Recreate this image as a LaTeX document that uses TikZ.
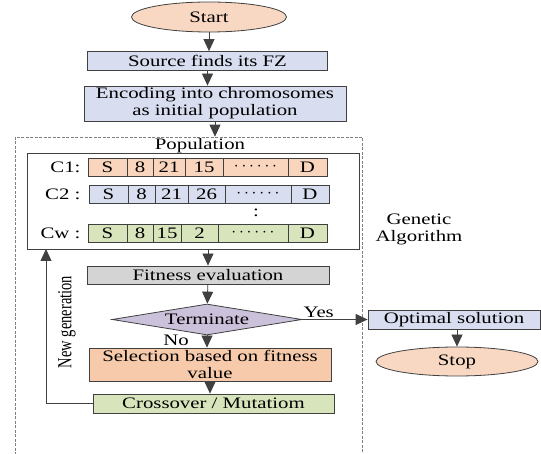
\documentclass[tikz,border=0pt]{standalone}
\usepackage{fontspec}
\setmainfont{Liberation Serif}[FakeStretch=1.3]
\newfontfamily\uprightserif{Liberation Serif}
\usepackage{tikz}
\usetikzlibrary{shapes.geometric,arrows.meta,positioning,calc}
\definecolor{peach}{HTML}{F6CAAB}
\definecolor{lightpeach}{HTML}{F9D8C3}
\definecolor{paleblue}{HTML}{D8DEF0}
\definecolor{palegreen}{HTML}{D8E4BC}
\definecolor{palegray}{HTML}{D4D4D4}
\definecolor{lilac}{HTML}{CCC1DA}
\definecolor{edgegray}{HTML}{404040}
\newcommand{\dotrun}{$\cdots\cdots$}

\begin{document}
\begin{tikzpicture}[
    x=1pt, y=-1pt,
    every node/.style={font=\fontsize{16}{17}\selectfont},
    box/.style={rectangle, draw=edgegray, line width=0.8pt, inner sep=1pt, align=center},
    term/.style={ellipse, draw=edgegray, line width=0.8pt, fill=lightpeach, inner sep=0pt},
    cell/.style={rectangle, draw=edgegray, line width=0.8pt, inner sep=0pt, minimum height=18pt},
    arrow/.style={-{Triangle[length=12pt,width=11pt]}, draw=edgegray, line width=0.8pt},
    tagtext/.style={inner sep=0pt}
]
    \clip (0,0) rectangle (541,454);

    \node[term, minimum width=155pt, minimum height=30pt] (start) at (209,17) {Start};
    \node[box, fill=paleblue, minimum width=240pt, minimum height=19pt] (source) at (207.5,61) {Source finds its FZ};
    \node[box, fill=paleblue, minimum width=262pt, minimum height=35pt] (encode) at (215,103.5) {Encoding into chromosomes\\as initial population};

    \node[rectangle, draw=gray, line width=0.7pt, dash pattern=on 3pt off 1.5pt, minimum width=346.5pt, minimum height=333pt] (ga) at (188.75,303.5) {};
    \node (poptitle) at (200,146) {Population};
    \node[rectangle, draw=edgegray, line width=0.8pt, minimum width=332pt, minimum height=96pt] (pop) at (193,201) {};

    \node[anchor=east] (c1lab) at (84,167) {C1:};
    \node[anchor=east] (c2lab) at (84,194) {C2 :};
    \node[anchor=east] (cwlab) at (84,233) {Cw :};
    \foreach \xa/\xb/\txt [count=\i] in {88/127/S, 127/153/8, 153/185/21, 185/223/15, 223/288/\dotrun, 288/327/D}
        \node[cell, fill=peach!80!white, minimum width={(\xb-\xa)*1pt}] (ca\i) at ({(\xa+\xb)/2},167) {\txt};
    \foreach \xa/\xb/\txt [count=\i] in {89/128/S, 128/155/8, 155/188/21, 188/225/26, 225/291/\dotrun, 291/329/D}
        \node[cell, fill=paleblue, minimum width={(\xb-\xa)*1pt}] (cb\i) at ({(\xa+\xb)/2},194) {\txt};
    \foreach \xa/\xb/\txt [count=\i] in {88/127/S, 127/153/8, 153/181/15, 181/218/2, 218/288/\dotrun, 288/327/D}
        \node[cell, fill=palegreen, minimum width={(\xb-\xa)*1pt}] (cw\i) at ({(\xa+\xb)/2},233) {\txt};
    \node (vdots) at (256,213) {:};

    \node[box, fill=palegray, minimum width=242pt, minimum height=18pt] (fit) at (208,275) {Fitness evaluation};
    \node[diamond, aspect=6.1, draw=edgegray, line width=0.8pt, fill=lilac, inner sep=0pt, minimum width=190pt, minimum height=31pt] (dia) at (207,319.5) {Terminate};
    \node[box, fill=peach, minimum width=242pt, minimum height=33pt] (sel) at (210,364.5) {Selection based on fitness\\value};
    \node[box, fill=palegreen, minimum width=241pt, minimum height=19pt] (cross) at (213.5,403.5) {Crossover / Mutatiom};
    \node[box, fill=paleblue, minimum width=172pt, minimum height=19pt] (opt) at (454,319.5) {Optimal solution};
    \node[term, minimum width=162pt, minimum height=29pt] (stop) at (457,361.5) {Stop};

    \node[tagtext] (notag) at (176,340) {No};
    \node[rotate=90, font=\uprightserif\fontsize{14.5}{17}\selectfont] (newgen) at (67,322) {\scalebox{1}[1.38]{New generation}};
    \node[align=center] (gatitle) at (419,229) {Genetic\\Algorithm};
    \coordinate (back) at (46,249);

    \draw[arrow] (start) -- (start |- source.north);
    \draw[arrow] (source) -- (source |- encode.north);
    \draw[arrow] (encode) -- (encode |- ga.north);
    \draw[arrow] (fit |- pop.south) -- (fit.north);
    \draw[arrow] (fit) -- (dia);
    \draw[arrow] (dia.south) -- (dia.south |- sel.north);
    \draw[arrow] (sel) -- (sel |- cross.north);
    \draw[arrow] (dia.east) -- node[tagtext, above=1pt, pos=0.25] {Yes} (opt.west);
    \draw[arrow] (stop |- opt.south) -- (stop);
    \draw[arrow] (cross.west) -| (back);
\end{tikzpicture}
\end{document}
